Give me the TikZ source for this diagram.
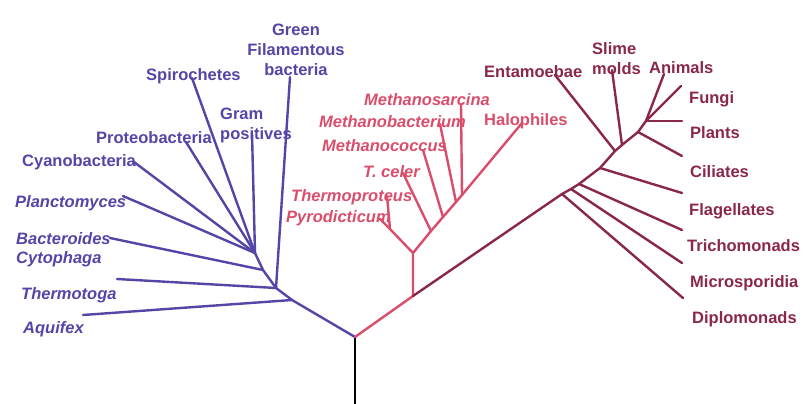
\documentclass[tikz,border=0pt]{standalone}
\usepackage{fontspec}
\setmainfont{Liberation Sans}
\definecolor{bact}{RGB}{84,70,166}
\definecolor{arch}{RGB}{218,78,108}
\definecolor{euk}{RGB}{138,40,72}
\begin{document}
\begin{tikzpicture}[x=1pt,y=-1pt,
  lbl/.style={inner sep=0pt, anchor=base west, font=\fontsize{16.5}{20}\selectfont\bfseries},
  lblit/.style={lbl, font=\fontsize{16.5}{20}\selectfont\bfseries\itshape},
  br/.style={line width=2.4pt, line cap=round, line join=round}]
\useasboundingbox (0,0) rectangle (807,404);
\fill[white] (0,0) rectangle (807,404);
% ---------- labels: bacteria ----------
\node[lbl, text=bact, anchor=north, align=center] (lgf) at (296,23.5) {Green\\Filamentous\\bacteria};
\node[lbl, text=bact] (lsp) at (146,81) {Spirochetes};
\node[lbl, text=bact, anchor=north west, align=left] (lgp) at (220,107.5) {Gram\\positives};
\node[lbl, text=bact] (lpr) at (96,143) {Proteobacteria};
\node[lbl, text=bact] (lcy) at (22,166) {Cyanobacteria};
\node[lblit, text=bact] (lpl) at (15,207) {Planctomyces};
\node[lblit, text=bact] (lbc) at (16,244) {Bacteroides};
\node[lblit, text=bact] (lcp) at (16,263) {Cytophaga};
\node[lblit, text=bact] (ltg) at (21,299) {Thermotoga};
\node[lblit, text=bact] (laq) at (23,333) {Aquifex};
% ---------- labels: archaea ----------
\node[lblit, text=arch] (lms) at (364,106) {Methanosarcina};
\node[lblit, text=arch] (lmb) at (319,128) {Methanobacterium};
\node[lblit, text=arch] (lmc) at (322,152) {Methanococcus};
\node[lblit, text=arch] (ltc) at (363,177) {T. celer};
\node[lblit, text=arch] (ltp) at (291,201) {Thermoproteus};
\node[lblit, text=arch] (lpy) at (286,222) {Pyrodicticum};
\node[lbl, text=arch] (lhal) at (484,126) {Halophiles};
% ---------- labels: eukaryotes ----------
\node[lbl, text=euk] (lent) at (484,78) {Entamoebae};
\node[lbl, text=euk, anchor=north west, align=left] (lsli) at (592,42.5) {Slime\\molds};
\node[lbl, text=euk] (lani) at (649,74) {Animals};
\node[lbl, text=euk] (lfun) at (689,103) {Fungi};
\node[lbl, text=euk] (lpla) at (690,139) {Plants};
\node[lbl, text=euk] (lcil) at (690,177) {Ciliates};
\node[lbl, text=euk] (lfla) at (689,215) {Flagellates};
\node[lbl, text=euk] (ltri) at (687,251) {Trichomonads};
\node[lbl, text=euk] (lmic) at (690,287) {Microsporidia};
\node[lbl, text=euk] (ldip) at (692,323) {Diplomonads};
% ---------- tree points ----------
\coordinate (rb) at (355,404);
\coordinate (R) at (355,337);
% bacteria
\coordinate (bA) at (292,300);
\coordinate (bB) at (276,288);
\coordinate (bC) at (263,270);
\coordinate (bD) at (255,253);
\coordinate (aq) at (83,315);
\coordinate (tg) at (117,279);
\coordinate (gf) at (290,77);
\coordinate (bc) at (110,238);
\coordinate (gp) at (252,133);
\coordinate (pl) at (123,196);
\coordinate (cy) at (134,162);
\coordinate (pr) at (186,142);
\coordinate (sp) at (192,78);
% archaea
\coordinate (E) at (413,296);
\coordinate (F) at (413,253);
\coordinate (aP) at (390,229);
\coordinate (tp) at (387,196);
\coordinate (py) at (380,219);
\coordinate (tcb) at (431,231);
\coordinate (mcb) at (443,217);
\coordinate (mbb) at (456,202);
\coordinate (msb) at (462,195);
\coordinate (hal) at (522,123);
\coordinate (tc) at (403,173);
\coordinate (mc) at (423,150);
\coordinate (mb) at (440,124);
\coordinate (ms) at (461,104);
% eukaryotes
\coordinate (G) at (562,194);
\coordinate (H) at (571,189);
\coordinate (I) at (579,184);
\coordinate (J) at (600,168);
\coordinate (K1) at (615,151);
\coordinate (K2) at (622,145);
\coordinate (L) at (638,132);
\coordinate (M) at (646,121);
\coordinate (dip) at (683,298);
\coordinate (mic) at (682,263);
\coordinate (tri) at (682,230);
\coordinate (fla) at (682,193);
\coordinate (ent) at (555,75);
\coordinate (sli) at (612,70);
\coordinate (cil) at (682,156);
\coordinate (pla) at (682,121);
\coordinate (fun) at (681,86);
\coordinate (ani) at (664,74);
% ---------- branches ----------
\draw[br, black, line width=2pt, line cap=butt] (rb) -- (R);
\draw[br, bact] (R) -- (bA) -- (bB) -- (bC) -- (bD);
\draw[br, bact] (bA) -- (aq);
\draw[br, bact] (bB) -- (tg);
\draw[br, bact] (bB) -- (gf);
\draw[br, bact] (bC) -- (bc);
\draw[br, bact] (bD) -- (gp);
\draw[br, bact] (bD) -- (pl);
\draw[br, bact] (bD) -- (cy);
\draw[br, bact] (bD) -- (pr);
\draw[br, bact] (bD) -- (sp);
\draw[br, arch] (R) -- (E) -- (F) -- (aP) -- (tp);
\draw[br, arch] (aP) -- (py);
\draw[br, arch] (F) -- (tcb) -- (mcb) -- (mbb) -- (msb) -- (hal);
\draw[br, arch] (tcb) -- (tc);
\draw[br, arch] (mcb) -- (mc);
\draw[br, arch] (mbb) -- (mb);
\draw[br, arch] (msb) -- (ms);
\draw[br, euk] (E) -- (G) -- (H) -- (I) -- (J) -- (K1) -- (K2) -- (L) -- (M);
\draw[br, euk] (G) -- (dip);
\draw[br, euk] (H) -- (mic);
\draw[br, euk] (I) -- (tri);
\draw[br, euk] (J) -- (fla);
\draw[br, euk] (K1) -- (ent);
\draw[br, euk] (K2) -- (sli);
\draw[br, euk] (L) -- (cil);
\draw[br, euk] (M) -- (pla);
\draw[br, euk] (M) -- (fun);
\draw[br, euk] (M) -- (ani);
\end{tikzpicture}
\end{document}
